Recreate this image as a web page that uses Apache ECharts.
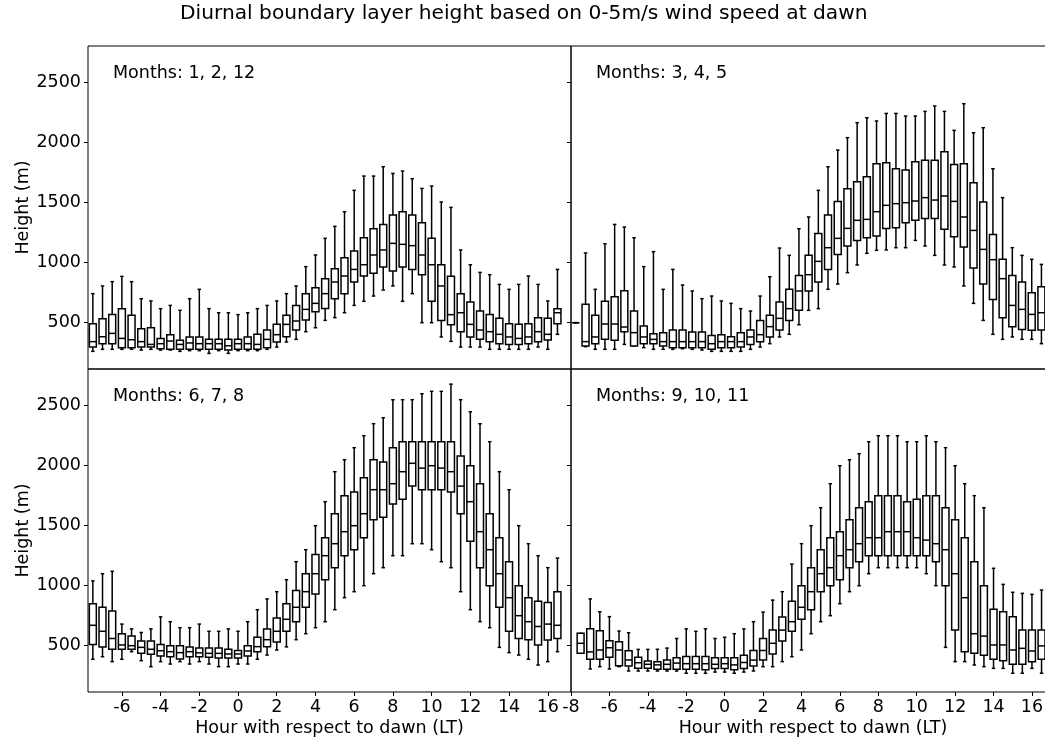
<!DOCTYPE html>
<html>
<head>
<meta charset="utf-8">
<title>Diurnal boundary layer height</title>
<script src="https://cdn.jsdelivr.net/npm/echarts@6/dist/echarts.min.js"></script>
<style>
  html, body { margin: 0; padding: 0; background: #fff; overflow: hidden; }
  #main { width: 1060px; height: 740px; }
</style>
</head>
<body>
<div id="main"></div>
<script>
// hour positions of the boxes (relative to dawn)
const hours = [
  -7.5, -7, -6.5, -6, -5.5, -5, -4.5, -4, -3.5, -3, -2.5, -2, -1.5, -1, -0.5, 0,
  0.5, 1, 1.5, 2, 2.5, 3, 3.5, 4, 4.5, 5, 5.5, 6, 6.5, 7, 7.5, 8, 8.5, 9, 9.5,
  10, 10.5, 11, 11.5, 12, 12.5, 13, 13.5, 14, 14.5, 15, 15.5, 16, 16.5
];
const yTicks = [500, 1000, 1500, 2000, 2500];
const xTicksLeft = [-6, -4, -2, 0, 2, 4, 6, 8, 10, 12, 14, 16];
const xTicksRight = [-8, -6, -4, -2, 0, 2, 4, 6, 8, 10, 12, 14, 16];
const panelTitles = ['Months: 1, 2, 12', 'Months: 3, 4, 5', 'Months: 6, 7, 8', 'Months: 9, 10, 11'];

// Months 1, 2, 12
const djfLo  = [261, 278, 278, 278, 278, 272, 278, 272, 272, 261, 267, 267, 244, 267, 244, 267, 267, 267, 278, 297, 339, 361, 425, 458, 519, 542, 583, 644, 678, 722, 772, 806, 678, 742, 500, 500, 381, 344, 297, 297, 297, 278, 278, 278, 278, 278, 297, 278, 403];
const djfQ1  = [297, 325, 325, 292, 292, 297, 297, 283, 278, 278, 278, 278, 278, 278, 272, 278, 278, 278, 292, 339, 383, 439, 522, 592, 619, 700, 742, 839, 889, 911, 964, 931, 964, 944, 900, 678, 519, 483, 425, 381, 361, 342, 325, 319, 319, 325, 342, 356, 492];
const djfMed = [342, 383, 411, 369, 358, 342, 319, 325, 347, 319, 331, 325, 325, 325, 308, 325, 325, 319, 361, 400, 486, 514, 611, 661, 742, 839, 889, 944, 983, 1064, 1106, 1161, 1153, 1142, 1064, 983, 806, 567, 583, 486, 439, 425, 403, 381, 369, 381, 425, 403, 583];
const djfQ3  = [492, 533, 569, 617, 561, 450, 458, 369, 400, 353, 381, 381, 361, 361, 361, 361, 381, 403, 439, 486, 561, 644, 742, 792, 867, 950, 1042, 1097, 1208, 1283, 1319, 1397, 1425, 1397, 1333, 1203, 983, 886, 742, 672, 597, 569, 536, 492, 486, 492, 542, 536, 617];
const djfHi  = [742, 806, 842, 886, 842, 700, 681, 617, 644, 603, 700, 778, 617, 583, 583, 567, 583, 617, 644, 681, 742, 806, 967, 1064, 1203, 1303, 1425, 1603, 1722, 1722, 1800, 1744, 1764, 1700, 1619, 1639, 1506, 1461, 1106, 983, 919, 900, 819, 778, 819, 889, 819, 681, 944];

// Months 3, 4, 5
const mamLo  = [500, 300, 278, 278, 278, 319, 306, 292, 278, 278, 278, 283, 278, 272, 261, 261, 261, 261, 278, 297, 325, 381, 403, 483, 603, 617, 778, 822, 917, 981, 1078, 1103, 1106, 1125, 1125, 1186, 1139, 1061, 981, 964, 806, 661, 519, 403, 361, 381, 361, 361, 325];
const mamQ1  = [500, 306, 325, 361, 353, 425, 306, 325, 325, 306, 292, 292, 292, 292, 278, 292, 292, 297, 319, 342, 381, 439, 519, 603, 764, 839, 944, 1069, 1139, 1186, 1208, 1222, 1286, 1292, 1333, 1353, 1369, 1369, 1278, 1217, 1131, 956, 822, 694, 542, 467, 444, 436, 439];
const mamMed = [500, 342, 381, 489, 489, 464, 417, 381, 361, 342, 342, 342, 342, 342, 325, 342, 342, 342, 381, 400, 467, 536, 617, 764, 900, 1011, 1125, 1203, 1286, 1353, 1361, 1425, 1478, 1492, 1500, 1514, 1542, 1522, 1556, 1511, 1381, 1269, 1111, 1025, 867, 644, 611, 569, 583];
const mamQ3  = [500, 653, 561, 678, 717, 767, 597, 472, 408, 417, 439, 439, 422, 422, 394, 400, 383, 417, 439, 519, 561, 672, 778, 894, 1061, 1244, 1397, 1511, 1617, 1675, 1717, 1825, 1833, 1783, 1772, 1842, 1853, 1853, 1925, 1819, 1825, 1667, 1506, 1236, 1028, 894, 839, 750, 800];
const mamHi  = [500, 1081, 778, 1158, 1319, 1297, 1208, 967, 1092, 778, 944, 814, 764, 700, 722, 681, 661, 617, 597, 722, 883, 1122, 1061, 1283, 1381, 1603, 1800, 1939, 2042, 2167, 2208, 2181, 2244, 2244, 2222, 2222, 2261, 2306, 2261, 2103, 2325, 2083, 2125, 1783, 1542, 1125, 1061, 1028, 986];

// Months 6, 7, 8
const jjaLo  = [387, 408, 367, 387, 450, 375, 325, 367, 347, 367, 347, 367, 347, 325, 325, 347, 347, 387, 422, 464, 490, 550, 600, 650, 700, 800, 900, 950, 1000, 1100, 1150, 1250, 1250, 1350, 1350, 1300, 1200, 1150, 950, 800, 700, 650, 486, 442, 422, 387, 339, 367, 450];
const jjaQ1  = [510, 490, 470, 470, 470, 437, 428, 414, 408, 389, 408, 408, 403, 397, 397, 397, 414, 450, 492, 530, 620, 700, 820, 930, 1050, 1150, 1250, 1300, 1400, 1550, 1570, 1680, 1720, 1830, 1800, 1800, 1800, 1780, 1600, 1370, 1150, 1000, 820, 620, 560, 550, 506, 547, 560];
const jjaMed = [670, 620, 560, 506, 500, 486, 470, 458, 450, 442, 450, 440, 436, 436, 431, 431, 456, 492, 550, 620, 720, 820, 950, 1100, 1250, 1350, 1450, 1500, 1600, 1800, 1800, 1850, 1950, 2020, 1980, 2000, 1980, 1950, 1830, 1700, 1450, 1300, 1100, 900, 750, 700, 660, 680, 670];
const jjaQ3  = [850, 820, 790, 600, 580, 540, 540, 510, 500, 500, 490, 480, 480, 480, 470, 460, 500, 570, 640, 730, 850, 960, 1100, 1260, 1400, 1600, 1750, 1780, 1900, 2050, 2030, 2150, 2200, 2200, 2200, 2200, 2200, 2200, 2080, 2000, 1850, 1600, 1400, 1200, 1000, 900, 870, 860, 950];
const jjaHi  = [1040, 1100, 1120, 680, 640, 610, 640, 740, 700, 650, 650, 680, 620, 620, 640, 620, 700, 800, 890, 950, 1050, 1200, 1300, 1500, 1700, 1950, 2050, 2150, 2250, 2350, 2400, 2550, 2550, 2550, 2600, 2620, 2620, 2680, 2550, 2450, 2350, 2200, 1950, 1800, 1500, 1350, 1250, 1150, 1230];

// Months 9, 10, 11
const sonLo  = [437, 306, 325, 306, 325, 289, 289, 289, 289, 289, 289, 270, 270, 270, 280, 280, 270, 280, 289, 325, 325, 367, 408, 464, 600, 700, 750, 850, 950, 1000, 1100, 1150, 1150, 1150, 1150, 1150, 1100, 1000, 486, 367, 367, 339, 325, 311, 311, 270, 270, 311, 270];
const sonQ1  = [437, 386, 386, 403, 333, 331, 311, 311, 303, 303, 303, 303, 303, 300, 310, 310, 300, 310, 330, 380, 430, 540, 620, 720, 800, 950, 1000, 1050, 1150, 1200, 1250, 1250, 1250, 1250, 1250, 1250, 1250, 1200, 1000, 630, 450, 436, 420, 386, 375, 345, 345, 367, 386];
const sonMed = [520, 448, 464, 483, 464, 381, 358, 345, 340, 345, 355, 350, 350, 350, 345, 350, 340, 360, 380, 460, 520, 630, 700, 820, 950, 1100, 1150, 1250, 1300, 1350, 1400, 1400, 1450, 1450, 1450, 1400, 1380, 1350, 1300, 1100, 900, 600, 580, 506, 506, 464, 478, 456, 498];
const sonQ3  = [603, 642, 625, 542, 533, 458, 403, 372, 367, 380, 400, 410, 410, 410, 400, 400, 400, 420, 460, 560, 630, 740, 870, 1000, 1150, 1300, 1400, 1450, 1550, 1650, 1700, 1750, 1750, 1750, 1700, 1720, 1750, 1750, 1650, 1550, 1400, 1200, 1000, 803, 783, 742, 631, 631, 631];
const sonHi  = [603, 890, 783, 742, 622, 608, 469, 469, 470, 480, 560, 640, 620, 640, 560, 570, 600, 640, 700, 780, 880, 950, 1180, 1350, 1500, 1650, 1850, 2000, 2050, 2100, 2200, 2250, 2250, 2250, 2200, 2200, 2250, 2200, 2150, 2000, 1850, 1750, 1650, 1145, 1011, 945, 936, 928, 964];

const panels = [
  [djfLo, djfQ1, djfMed, djfQ3, djfHi],
  [mamLo, mamQ1, mamMed, mamQ3, mamHi],
  [jjaLo, jjaQ1, jjaMed, jjaQ3, jjaHi],
  [sonLo, sonQ1, sonMed, sonQ3, sonHi]
];

const FONT = 'DejaVu Sans';
const BOX_W = 0.36;   // box width in hours
const CAP_W = 0.18;   // whisker cap width in hours

const gridPos = [
  { left: 88, top: 46, width: 483, height: 323 },
  { left: 571, top: 46, width: 484, height: 323 },
  { left: 88, top: 369, width: 483, height: 323 },
  { left: 571, top: 369, width: 484, height: 323 }
];
const xRanges = [[-7.75, 17.2], [-7.75, 17.2], [-7.75, 17.2], [-8, 17.2]];

function renderBox(params, api) {
  const x = api.value(0);
  const lo = api.coord([x, api.value(1)]);
  const q1 = api.coord([x, api.value(2)]);
  const md = api.coord([x, api.value(3)]);
  const q3 = api.coord([x, api.value(4)]);
  const hi = api.coord([x, api.value(5)]);
  const bw = api.size([BOX_W, 0])[0];
  const cw = api.size([CAP_W, 0])[0];
  const cx = md[0];
  const ln = { stroke: '#000', lineWidth: 1.5, fill: null };
  return {
    type: 'group',
    children: [
      { type: 'line', shape: { x1: cx, y1: hi[1], x2: cx, y2: q3[1] }, style: ln },
      { type: 'line', shape: { x1: cx, y1: q1[1], x2: cx, y2: lo[1] }, style: ln },
      { type: 'line', shape: { x1: cx - cw / 2, y1: hi[1], x2: cx + cw / 2, y2: hi[1] }, style: ln },
      { type: 'line', shape: { x1: cx - cw / 2, y1: lo[1], x2: cx + cw / 2, y2: lo[1] }, style: ln },
      { type: 'rect', shape: { x: cx - bw / 2, y: q3[1], width: bw, height: q1[1] - q3[1] },
        style: { stroke: '#000', lineWidth: 1.5, fill: '#fff' } },
      { type: 'line', shape: { x1: cx - bw / 2, y1: md[1], x2: cx + bw / 2, y2: md[1] }, style: ln }
    ]
  };
}

const chart = echarts.init(document.getElementById('main'), null, { renderer: 'canvas' });

const grids = [], xAxes = [], yAxes = [], series = [];
const titles = [{
  text: 'Diurnal boundary layer height based on 0-5m/s wind speed at dawn',
  left: 180, top: 4, padding: 0,
  textStyle: { fontFamily: FONT, fontSize: 20.2, fontWeight: 'normal', color: '#000' }
}];

panels.forEach(function (p, i) {
  const isBottom = i >= 2;
  const isLeft = i % 2 === 0;
  grids.push(Object.assign({
    show: true, borderColor: '#000', borderWidth: 1, backgroundColor: 'transparent',
    outerBoundsMode: 'none'
  }, gridPos[i]));
  const xt = i === 3 ? xTicksRight : xTicksLeft;
  xAxes.push({
    gridIndex: i, type: 'value', min: xRanges[i][0], max: xRanges[i][1],
    axisLine: { show: false, onZero: false },
    splitLine: { show: false },
    axisTick: { show: isBottom, length: 4, customValues: xt, lineStyle: { color: '#000', width: 1 } },
    axisLabel: { show: isBottom, customValues: xt, margin: 6, fontFamily: FONT, fontSize: 17.5, color: '#000',
      formatter: function (v) { return String(v); } },
    name: isBottom ? 'Hour with respect to dawn (LT)' : '',
    nameLocation: 'middle', nameGap: 27,
    nameTextStyle: { fontFamily: FONT, fontSize: 17.5, color: '#000' }
  });
  yAxes.push({
    gridIndex: i, type: 'value', min: 114, max: 2806,
    axisLine: { show: false, onZero: false },
    splitLine: { show: false },
    axisTick: { show: true, length: 4, customValues: yTicks, lineStyle: { color: '#000', width: 1 } },
    axisLabel: { show: isLeft, customValues: yTicks, margin: 7, fontFamily: FONT, fontSize: 17.5, color: '#000',
      formatter: function (v) { return String(v); } },
    name: isLeft ? 'Height (m)' : '',
    nameLocation: 'middle', nameGap: 53, nameRotate: 90,
    nameTextStyle: { fontFamily: FONT, fontSize: 17.5, color: '#000' }
  });
  const rows = hours.map(function (h, k) {
    return [h, p[0][k], p[1][k], p[2][k], p[3][k], p[4][k]];
  });
  series.push({
    type: 'custom', xAxisIndex: i, yAxisIndex: i, clip: true,
    renderItem: renderBox, data: rows, silent: true,
    encode: { x: 0, y: [1, 2, 3, 4, 5] }
  });
  titles.push({
    text: panelTitles[i], left: gridPos[i].left + 25, top: gridPos[i].top + 18, padding: 0,
    textStyle: { fontFamily: FONT, fontSize: 17.5, fontWeight: 'normal', color: '#000' }
  });
});

const option = {
  backgroundColor: '#fff',
  animation: false,
  title: titles,
  grid: grids,
  xAxis: xAxes,
  yAxis: yAxes,
  series: series
};

option && chart.setOption(option);
</script>
</body>
</html>
